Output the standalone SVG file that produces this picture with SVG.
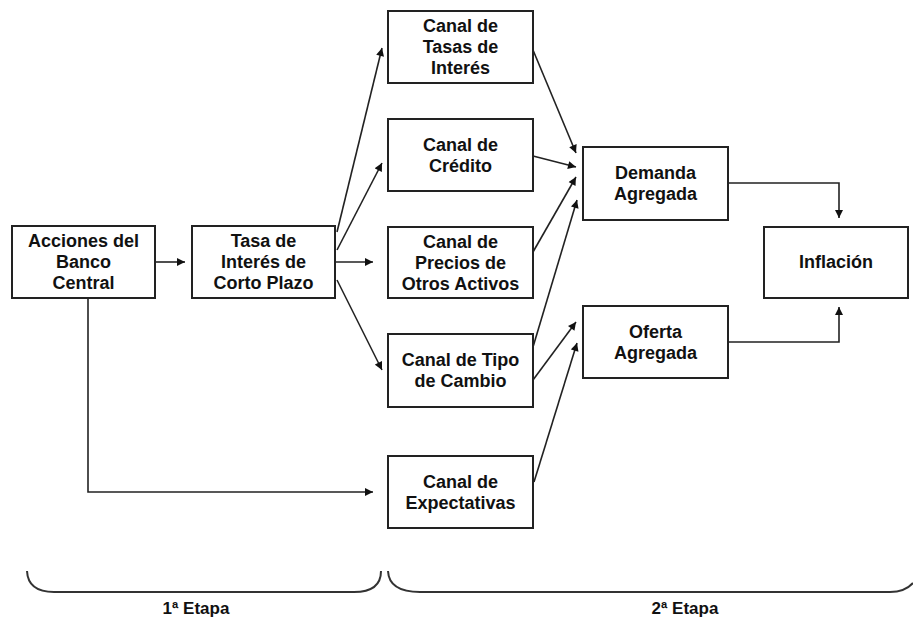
<svg xmlns="http://www.w3.org/2000/svg" width="913" height="618" viewBox="0 0 913 618">
<style>
.box{fill:#fff;stroke:#222;stroke-width:2}
.t{font-family:"Liberation Sans",Arial,sans-serif;font-weight:bold;font-size:18px;fill:#111;text-anchor:middle}
.c{fill:none;stroke:#222;stroke-width:1.6}
.b{fill:none;stroke:#333;stroke-width:2}
.l{font-family:"Liberation Sans",Arial,sans-serif;font-weight:bold;font-size:17px;fill:#111;text-anchor:middle}
</style>
<defs>
<marker id="ah" viewBox="0 0 10 10" refX="10" refY="5" markerWidth="10" markerHeight="8" markerUnits="userSpaceOnUse" orient="auto">
<path d="M0,0 L10,5 L0,10 z" fill="#111"/>
</marker>
</defs>
<rect width="913" height="618" fill="#fff"/>
<g id="connectors">
<line class="c" x1="155" y1="262" x2="185" y2="262" marker-end="url(#ah)"/>
<line class="c" x1="335" y1="262" x2="373" y2="262" marker-end="url(#ah)"/>
<line class="c" x1="337" y1="232" x2="382" y2="48" marker-end="url(#ah)"/>
<line class="c" x1="337" y1="250" x2="382" y2="163" marker-end="url(#ah)"/>
<line class="c" x1="337" y1="280" x2="382" y2="370" marker-end="url(#ah)"/>
<line class="c" x1="533" y1="50" x2="576" y2="153" marker-end="url(#ah)"/>
<line class="c" x1="533" y1="156" x2="576" y2="167" marker-end="url(#ah)"/>
<line class="c" x1="533" y1="252" x2="576" y2="177" marker-end="url(#ah)"/>
<line class="c" x1="533" y1="347" x2="577" y2="200" marker-end="url(#ah)"/>
<line class="c" x1="533" y1="380" x2="576" y2="322" marker-end="url(#ah)"/>
<line class="c" x1="534" y1="482" x2="577" y2="343" marker-end="url(#ah)"/>
<polyline class="c" points="88,298 88,492 373,492" marker-end="url(#ah)"/>
<polyline class="c" points="728,183 839,183 839,218" marker-end="url(#ah)"/>
<polyline class="c" points="728,342 839,342 839,307" marker-end="url(#ah)"/>
</g>
<g id="acciones">
<rect class="box" x="12" y="226" width="143" height="72"/>
<text class="t" x="83.5" y="247">Acciones del</text>
<text class="t" x="83.5" y="268">Banco</text>
<text class="t" x="83.5" y="289">Central</text>
</g>
<g id="tasa">
<rect class="box" x="192" y="226" width="143" height="72"/>
<text class="t" x="263.5" y="247">Tasa de</text>
<text class="t" x="263.5" y="268">Interés de</text>
<text class="t" x="263.5" y="289">Corto Plazo</text>
</g>
<g id="canal-tasas">
<rect class="box" x="388" y="11" width="145" height="72"/>
<text class="t" x="460.5" y="32">Canal de</text>
<text class="t" x="460.5" y="53">Tasas de</text>
<text class="t" x="460.5" y="74">Interés</text>
</g>
<g id="canal-credito">
<rect class="box" x="388" y="119" width="145" height="72"/>
<text class="t" x="460.5" y="151">Canal de</text>
<text class="t" x="460.5" y="172">Crédito</text>
</g>
<g id="canal-precios">
<rect class="box" x="388" y="227" width="145" height="71"/>
<text class="t" x="460.5" y="248">Canal de</text>
<text class="t" x="460.5" y="269">Precios de</text>
<text class="t" x="460.5" y="290">Otros Activos</text>
</g>
<g id="canal-tipo">
<rect class="box" x="388" y="334" width="145" height="73"/>
<text class="t" x="460.5" y="366">Canal de Tipo</text>
<text class="t" x="460.5" y="387">de Cambio</text>
</g>
<g id="canal-expectativas">
<rect class="box" x="388" y="456" width="145" height="72"/>
<text class="t" x="460.5" y="488">Canal de</text>
<text class="t" x="460.5" y="509">Expectativas</text>
</g>
<g id="demanda">
<rect class="box" x="583" y="147" width="145" height="73"/>
<text class="t" x="655.5" y="179">Demanda</text>
<text class="t" x="655.5" y="200">Agregada</text>
</g>
<g id="oferta">
<rect class="box" x="583" y="306" width="145" height="72"/>
<text class="t" x="655.5" y="338">Oferta</text>
<text class="t" x="655.5" y="359">Agregada</text>
</g>
<g id="inflacion">
<rect class="box" x="764" y="227" width="144" height="71"/>
<text class="t" x="836" y="268">Inflación</text>
</g>
<g id="etapas">
<path class="b" d="M27,571 Q28,592 54,592 L354,592 Q381,592 381,571"/>
<path class="b" d="M388,571 Q389,592 420,592 L890,592 Q905,592 913,583"/>
<text class="l" x="196" y="614">1ª Etapa</text>
<text class="l" x="685" y="614">2ª Etapa</text>
</g>
</svg>
